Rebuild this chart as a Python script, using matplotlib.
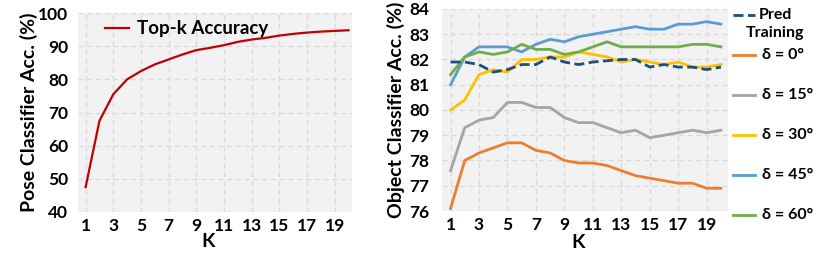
import matplotlib
matplotlib.use("Agg")
import matplotlib.pyplot as plt
from matplotlib.lines import Line2D

plt.rcParams['font.family'] = ['Lato', 'DejaVu Sans']
plt.rcParams['font.weight'] = 'bold'

K = list(range(1, 21))
xticks = list(range(1, 20, 2))

topk = [47.5, 67.5, 75.5, 80.0, 82.5, 84.5, 86.0, 87.5, 88.8, 89.5,
        90.3, 91.3, 92.0, 92.5, 93.2, 93.7, 94.1, 94.4, 94.6, 94.8]

pred_training = [81.9, 81.9, 81.8, 81.5, 81.6, 81.8, 81.8, 82.1, 81.9, 81.8,
                 81.9, 81.95, 82.0, 82.0, 81.7, 81.8, 81.7, 81.7, 81.6, 81.7]
d0 = [76.1, 78.0, 78.3, 78.5, 78.7, 78.7, 78.4, 78.3, 78.0, 77.9,
      77.9, 77.8, 77.6, 77.4, 77.3, 77.2, 77.1, 77.1, 76.9, 76.9]
d15 = [77.6, 79.3, 79.6, 79.7, 80.3, 80.3, 80.1, 80.1, 79.7, 79.5,
       79.5, 79.3, 79.1, 79.2, 78.9, 79.0, 79.1, 79.2, 79.1, 79.2]
d30 = [80.0, 80.4, 81.4, 81.6, 81.5, 82.0, 82.0, 82.1, 82.1, 82.3,
       82.2, 82.1, 81.9, 82.0, 81.9, 81.8, 81.9, 81.7, 81.7, 81.8]
d45 = [81.0, 82.1, 82.5, 82.5, 82.5, 82.3, 82.6, 82.8, 82.7, 82.9,
       83.0, 83.1, 83.2, 83.3, 83.2, 83.2, 83.4, 83.4, 83.5, 83.4]
d60 = [81.4, 82.1, 82.3, 82.2, 82.3, 82.6, 82.4, 82.4, 82.2, 82.3,
       82.5, 82.7, 82.5, 82.5, 82.5, 82.5, 82.5, 82.6, 82.6, 82.5]

labels = ["δ = 0°", "δ = 15°", "δ = 30°", "δ = 45°", "δ = 60°"]
values = [d0, d15, d30, d45, d60]
colors = ["#ED7D31", "#A5A5A5", "#FFC000", "#5B9BD5", "#70AD47"]

W, H = 830, 254
fig = plt.figure(figsize=(8.3, 2.54), dpi=100)
ax1 = fig.add_axes([78 / W, 1 - 212 / H, 274 / W, 199 / H])
ax2 = fig.add_axes([442 / W, 1 - 211 / H, 286 / W, 202 / H])

for ax in (ax1, ax2):
    ax.set_facecolor("#F2F2F2")
    for s in ax.spines.values():
        s.set_visible(False)
    ax.set_xticks(xticks)
    ax.grid(True, color="#D9D9D9", linestyle=(0, (4, 3)), linewidth=0.9)
    ax.set_axisbelow(True)
    ax.tick_params(length=0, labelsize=12.5)
    ax.tick_params(axis='x', pad=4)
    for lab in ax.get_xticklabels() + ax.get_yticklabels():
        lab.set_fontweight('bold')
    ax.set_xlabel("K", fontsize=14, fontweight='bold')

ax1.tick_params(axis='y', pad=7)
ax2.tick_params(axis='y', pad=9)

ax1.plot(K, topk, color="#C00000", linewidth=1.6)
ax1.set_xlim(0.45, 20.25)
ax1.set_ylim(40, 100)
ax1.set_yticks(range(40, 101, 10))
ax1.set_ylabel("Pose Classifier Acc. (%)", fontsize=14, fontweight='bold')
ax1.yaxis.set_label_coords(-0.146, 0.5)
ax1.xaxis.set_label_coords(0.475, -0.108)
ax1.legend([Line2D([], [], color="#C00000", linewidth=1.6)], ["Top-k Accuracy"],
           loc="upper left", frameon=False, handlelength=1.3,
           handletextpad=0.4, borderaxespad=0.0, bbox_to_anchor=(0.07, 1.0),
           prop={'weight': 'bold', 'size': 13.5})

ax2.plot(K, pred_training, color="#1F4E79", linewidth=2.0, linestyle=(0, (3.6, 1.6)),
         zorder=3)
for vals, c in zip(values, colors):
    ax2.plot(K, vals, color=c, linewidth=2.0)
ax2.set_xlim(0.4, 20.5)
ax2.set_ylim(76, 84)
ax2.set_yticks(range(76, 85))
ax2.set_ylabel("Object Classifier Acc. (%)", fontsize=14, fontweight='bold')
ax2.yaxis.set_label_coords(-0.129, 0.5)
ax2.xaxis.set_label_coords(0.476, -0.112)

# manual legend on the right
hx0, hx1, tx = 733, 755, 762
fig.add_artist(Line2D([hx0 / W, hx1 / W], [1 - 15 / H, 1 - 15 / H], color="#1F4E79",
                      linewidth=2.0, linestyle=(0, (3.6, 1.6))))
fig.text(775 / W, 1 - 15 / H, "Pred", ha='center', va='center', fontsize=11.5, fontweight='bold')
fig.text(775 / W, 1 - 33 / H, "Training", ha='center', va='center', fontsize=11.5, fontweight='bold')
for i, (lab, c) in enumerate(zip(labels, colors)):
    yc = 1 - (55 + 40 * i) / H
    fig.add_artist(Line2D([hx0 / W, hx1 / W], [yc, yc], color=c, linewidth=2.0))
    fig.text(tx / W, yc, lab, ha='left', va='center', fontsize=11.5, fontweight='bold')

fig.savefig("out.png", dpi=100)
